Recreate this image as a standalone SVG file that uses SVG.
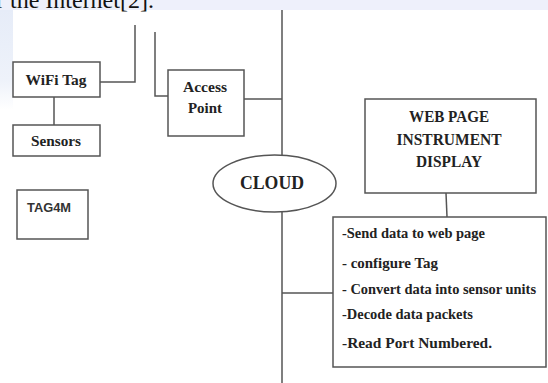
<svg xmlns="http://www.w3.org/2000/svg" width="548" height="383" viewBox="0 0 548 383">
<defs>
<linearGradient id="side" x1="0" y1="0" x2="0" y2="1">
<stop offset="0" stop-color="#e6ecf8"/>
<stop offset="0.7" stop-color="#eef2fa"/>
<stop offset="1" stop-color="#ffffff"/>
</linearGradient>
<style>
.box{fill:#fff;stroke:#555;stroke-width:1.5}
.ln{fill:none;stroke:#555;stroke-width:1.5}
.t{font-family:"Liberation Serif","Times New Roman",serif;font-weight:bold;fill:#222;font-size:15px}
.c{text-anchor:middle}
.s{font-family:"Liberation Sans",Arial,sans-serif;font-weight:bold;fill:#333;font-size:12px}
</style>
</defs>
<rect width="548" height="383" fill="#fff"/>
<rect x="0" y="0" width="548" height="10" fill="#eef0fb"/>
<rect x="0" y="10" width="13" height="100" fill="url(#side)"/>
<text x="-4" y="8" style="font-family:'Liberation Serif','Times New Roman',serif;font-size:24px;fill:#111">r the Internet[2].</text>

<g id="connectors">
<polyline class="ln" points="100,82 135,82 135,25"/>
<polyline class="ln" points="155,32 155,96 168,96"/>
<line class="ln" x1="54" y1="97" x2="54" y2="125"/>
<line class="ln" x1="244" y1="99" x2="282" y2="99"/>
<line class="ln" x1="282" y1="10" x2="282" y2="383"/>
<line class="ln" x1="282" y1="293" x2="333" y2="293"/>
<line class="ln" x1="446" y1="193" x2="447" y2="217"/>
</g>

<g id="wifi-tag">
<rect class="box" x="13" y="62" width="87" height="35"/>
<text class="t c" x="56" y="85" textLength="61" lengthAdjust="spacingAndGlyphs">WiFi Tag</text>
</g>
<g id="sensors">
<rect class="box" x="13" y="125" width="87" height="31"/>
<text class="t c" x="56" y="146" textLength="50" lengthAdjust="spacingAndGlyphs">Sensors</text>
</g>
<g id="tag4m">
<rect class="box" x="17" y="190" width="71" height="49"/>
<text class="s" x="27" y="212" textLength="44" lengthAdjust="spacingAndGlyphs">TAG4M</text>
</g>
<g id="access-point">
<rect class="box" x="168" y="70" width="76" height="66"/>
<text class="t c" x="205" y="92" textLength="44" lengthAdjust="spacingAndGlyphs">Access</text>
<text class="t c" x="205" y="113" textLength="34" lengthAdjust="spacingAndGlyphs">Point</text>
</g>
<g id="cloud">
<ellipse cx="274.5" cy="183.5" rx="61.5" ry="28.5" fill="#fff" stroke="#555" stroke-width="1.5"/>
<text class="t c" x="272" y="189" style="font-size:19px" textLength="64" lengthAdjust="spacingAndGlyphs">CLOUD</text>
</g>
<g id="web-page">
<rect class="box" x="365" y="99" width="171" height="94"/>
<text class="t c" x="449" y="122" style="font-size:16px" textLength="80" lengthAdjust="spacingAndGlyphs">WEB PAGE</text>
<text class="t c" x="449" y="145" style="font-size:16px" textLength="105" lengthAdjust="spacingAndGlyphs">INSTRUMENT</text>
<text class="t c" x="449" y="167" style="font-size:16px" textLength="66" lengthAdjust="spacingAndGlyphs">DISPLAY</text>
</g>
<g id="functions">
<rect class="box" x="333" y="217" width="213" height="150"/>
<text class="t" x="342" y="238" textLength="143" lengthAdjust="spacingAndGlyphs">-Send data to web page</text>
<text class="t" x="342" y="268" textLength="96" lengthAdjust="spacingAndGlyphs">- configure Tag</text>
<text class="t" x="342" y="294" textLength="194" lengthAdjust="spacingAndGlyphs">- Convert data into sensor units</text>
<text class="t" x="342" y="319" textLength="131" lengthAdjust="spacingAndGlyphs">-Decode data packets</text>
<text class="t" x="342" y="348" textLength="150" lengthAdjust="spacingAndGlyphs">-Read Port Numbered.</text>
</g>
</svg>
